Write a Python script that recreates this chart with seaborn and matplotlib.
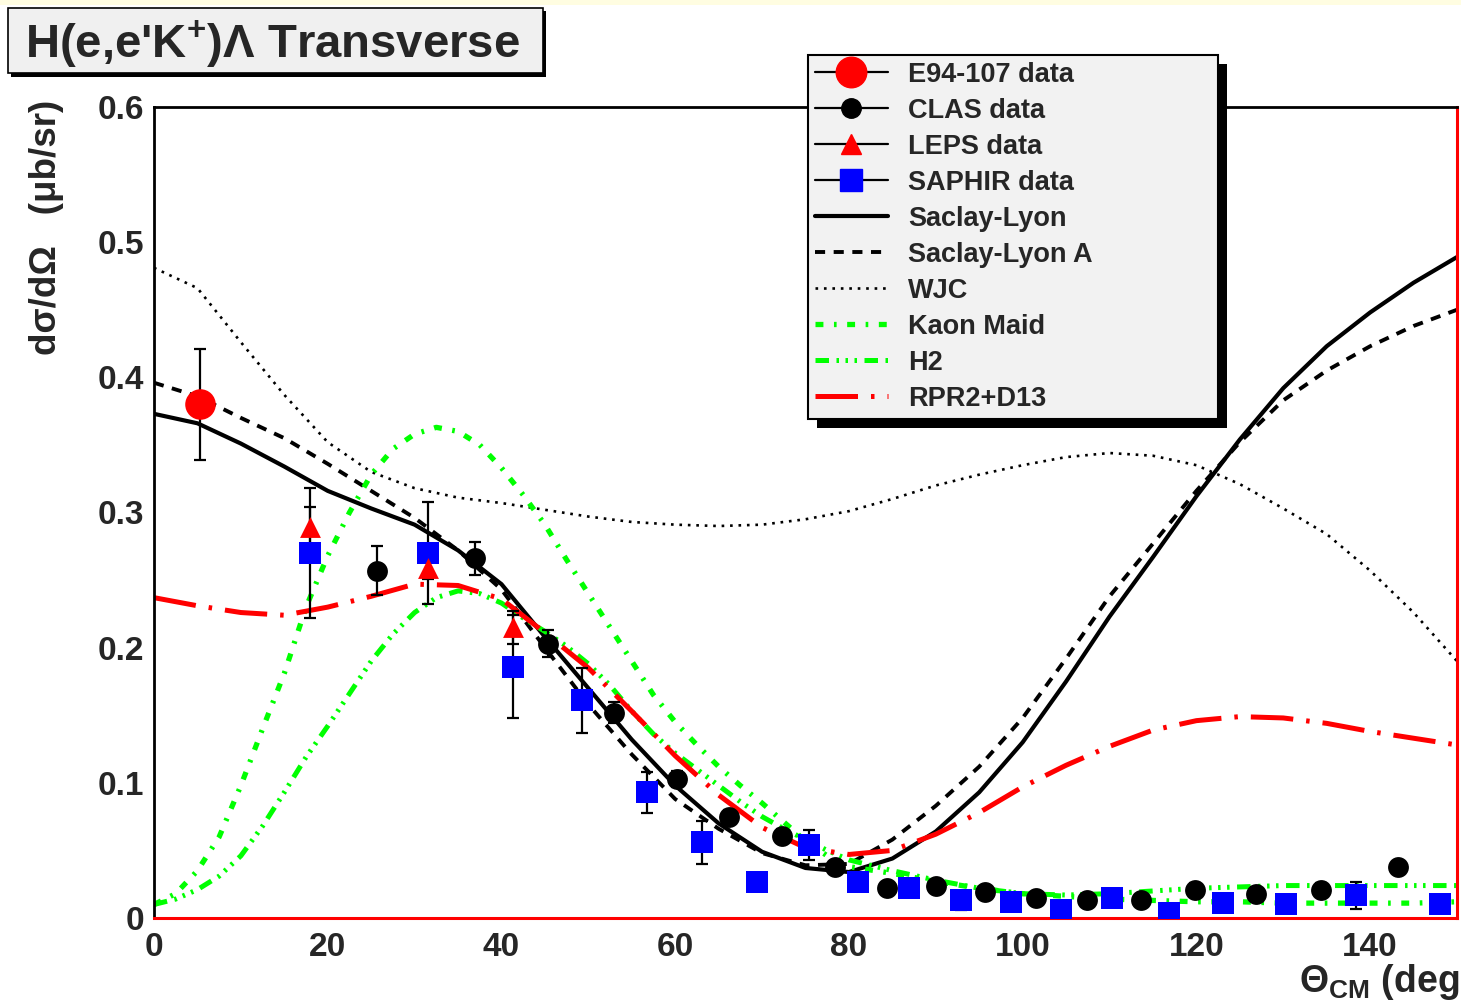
import numpy as np
import pandas as pd
import matplotlib
matplotlib.use("Agg")
import matplotlib.pyplot as plt
import seaborn as sns
from matplotlib.lines import Line2D
from matplotlib.patches import Rectangle
from matplotlib.transforms import IdentityTransform
from matplotlib.ticker import MultipleLocator, FuncFormatter

# ---- data points ----
e94_x = [5.3]
e94_y = [0.380]
e94_err = [0.041]

clas_x = [25.7, 37.0, 45.3, 53.0, 60.2, 66.2, 72.3, 78.4, 84.4, 90.0,
          95.7, 101.5, 107.4, 113.6, 119.8, 126.9, 134.4, 143.2]
clas_y = [0.257, 0.266, 0.203, 0.152, 0.103, 0.075, 0.061, 0.038, 0.022, 0.024,
          0.019, 0.015, 0.013, 0.013, 0.021, 0.018, 0.021, 0.038]
clas_err = [0.018, 0.012, 0.010, 0.008, 0.006, 0.005, 0.005, 0.004, 0.004, 0.004,
            0.004, 0.004, 0.004, 0.004, 0.005, 0.005, 0.005, 0.004]

leps_x = [18.0, 31.5, 41.3]
leps_y = [0.289, 0.259, 0.215]
leps_err = [0.015, 0.008, 0.012]

saphir_x = [18.0, 31.5, 41.3, 49.3, 56.7, 63.1, 69.4, 75.4, 81.1, 86.9,
            92.9, 98.6, 104.4, 110.3, 116.8, 123.1, 130.3, 138.4, 148.0]
saphir_y = [0.270, 0.270, 0.186, 0.161, 0.093, 0.056, 0.027, 0.054, 0.027, 0.022,
            0.013, 0.012, 0.006, 0.015, 0.004, 0.011, 0.010, 0.017, 0.010]
saphir_err = [0.048, 0.038, 0.038, 0.024, 0.015, 0.016, 0.004, 0.011, 0.005, 0.005,
              0.007, 0.005, 0.004, 0.005, 0.004, 0.006, 0.006, 0.010, 0.006]

# ---- model curves ----
grid5 = [0, 5, 10, 15, 20, 25, 30, 35, 40, 45, 50, 55, 60, 65, 70, 75, 80,
         85, 90, 95, 100, 105, 110, 115, 120, 125, 130, 135, 140, 145, 150]

sl_y = [0.373, 0.366, 0.351, 0.334, 0.316, 0.303, 0.291, 0.272, 0.247, 0.208,
        0.170, 0.132, 0.098, 0.070, 0.049, 0.037, 0.034, 0.044, 0.064, 0.093,
        0.130, 0.175, 0.223, 0.267, 0.312, 0.354, 0.392, 0.423, 0.448, 0.470, 0.489]
sla_y = [0.396, 0.386, 0.370, 0.355, 0.336, 0.316, 0.296, 0.272, 0.243, 0.200,
         0.158, 0.121, 0.088, 0.066, 0.048, 0.039, 0.040, 0.058, 0.083, 0.112,
         0.148, 0.192, 0.238, 0.277, 0.316, 0.352, 0.383, 0.405, 0.423, 0.438, 0.450]
wjc_y = [0.481, 0.466, 0.426, 0.387, 0.352, 0.330, 0.318, 0.311, 0.307, 0.302,
         0.297, 0.293, 0.291, 0.290, 0.291, 0.295, 0.301, 0.310, 0.320, 0.328,
         0.335, 0.341, 0.344, 0.342, 0.335, 0.321, 0.303, 0.284, 0.257, 0.226, 0.190]
rpr_y = [0.237, 0.231, 0.226, 0.224, 0.230, 0.238, 0.247, 0.246, 0.236, 0.211,
         0.185, 0.153, 0.120, 0.091, 0.067, 0.052, 0.047, 0.050, 0.062, 0.078,
         0.097, 0.113, 0.127, 0.139, 0.146, 0.149, 0.148, 0.144, 0.138, 0.133, 0.128]

km_x = [0, 2.5, 5, 7.5, 10, 12.5, 15, 17.5, 20, 22.5, 25, 27.5, 30, 32.5, 35,
        37.5, 40, 42.5, 45, 47.5, 50, 52.5, 55, 57.5, 60, 62.5, 65, 67.5, 70,
        72.5, 75, 77.5, 80, 85, 90, 95, 100, 105, 110, 115, 120, 125, 130, 135,
        140, 145, 150]
km_y = [0.010, 0.018, 0.035, 0.060, 0.098, 0.140, 0.181, 0.230, 0.268, 0.300,
        0.328, 0.347, 0.358, 0.363, 0.360, 0.350, 0.333, 0.313, 0.291, 0.265,
        0.240, 0.215, 0.190, 0.165, 0.145, 0.128, 0.112, 0.098, 0.085, 0.071,
        0.057, 0.046, 0.038, 0.033, 0.027, 0.022, 0.018, 0.016, 0.014, 0.013,
        0.012, 0.012, 0.011, 0.011, 0.011, 0.011, 0.012]
h2_y = [0.010, 0.014, 0.021, 0.031, 0.046, 0.068, 0.093, 0.119, 0.142, 0.166,
        0.190, 0.210, 0.226, 0.237, 0.242, 0.240, 0.233, 0.222, 0.212, 0.201,
        0.188, 0.172, 0.153, 0.136, 0.122, 0.110, 0.098, 0.086, 0.075, 0.066,
        0.058, 0.050, 0.043, 0.035, 0.028, 0.022, 0.018, 0.017, 0.018, 0.020,
        0.022, 0.023, 0.024, 0.024, 0.024, 0.024, 0.024]

labels = ["E94-107 data", "CLAS data", "LEPS data", "SAPHIR data", "Saclay-Lyon",
          "Saclay-Lyon A", "WJC", "Kaon Maid", "H2", "RPR2+D13"]

GREEN = "#00ff00"
curve_styles = {
    "Saclay-Lyon": dict(color="black", lw=3.0, linestyle="-"),
    "Saclay-Lyon A": dict(color="black", lw=2.8, linestyle=(0, (2.6, 2.2))),
    "WJC": dict(color="black", lw=1.9, linestyle=(0, (1, 2.2))),
    "Kaon Maid": dict(color=GREEN, lw=3.8, linestyle=(0, (1.5, 2.0, 0.5, 2.0))),
    "H2": dict(color=GREEN, lw=3.6, linestyle=(0, (2.7, 1.5, 0.5, 1.3, 0.5, 1.3, 0.5, 1.5))),
    "RPR2+D13": dict(color="red", lw=3.6, linestyle=(0, (8.5, 2.6, 0.7, 2.6))),
}

sns.set_style("white")
plt.rcParams['font.family'] = ['Liberation Sans', 'DejaVu Sans']
plt.rcParams['font.weight'] = 'bold'
plt.rcParams['mathtext.fontset'] = 'custom'
plt.rcParams['mathtext.rm'] = 'Liberation Sans:bold'
plt.rcParams['mathtext.it'] = 'Liberation Sans:bold'
plt.rcParams['mathtext.bf'] = 'Liberation Sans:bold'

W, H = 1461, 1008
fig = plt.figure(figsize=(W / 100, H / 100), dpi=100)
fig.patch.set_facecolor("white")
fig.add_artist(Rectangle((0, 1 - 5 / H), 1, 5 / H, transform=fig.transFigure,
                         fc="#fffde1", ec="none", zorder=0))

ax = fig.add_axes([154 / W, 1 - 918 / H, (1457 - 154) / W, (918 - 107) / H])

# curves
curves = [("Saclay-Lyon", grid5, sl_y), ("Saclay-Lyon A", grid5, sla_y),
          ("WJC", grid5, wjc_y), ("Kaon Maid", km_x, km_y), ("H2", km_x, h2_y),
          ("RPR2+D13", grid5, rpr_y)]
for name, xs, ys in curves:
    sns.lineplot(x=xs, y=ys, ax=ax, sort=False, **curve_styles[name])

# data points with error bars
ebar = dict(fmt="none", ecolor="black", elinewidth=1.6, capsize=4.5, capthick=1.6, zorder=3)
ax.errorbar(saphir_x, saphir_y, yerr=saphir_err, **ebar)
ax.errorbar(leps_x, leps_y, yerr=leps_err, **ebar)
ax.errorbar(clas_x, clas_y, yerr=clas_err, **ebar)
ax.errorbar(e94_x, e94_y, yerr=e94_err, **ebar)
sns.scatterplot(x=saphir_x, y=saphir_y, marker="s", s=16 ** 2, color="blue",
                edgecolor="blue", linewidth=0, ax=ax, zorder=4)
sns.scatterplot(x=leps_x, y=leps_y, marker="^", s=15 ** 2, color="red",
                edgecolor="red", linewidth=0, ax=ax, zorder=4)
sns.scatterplot(x=clas_x, y=clas_y, marker="o", s=15 ** 2, color="black",
                edgecolor="black", linewidth=0, ax=ax, zorder=4)
sns.scatterplot(x=e94_x, y=e94_y, marker="o", s=22 ** 2, color="red",
                edgecolor="red", linewidth=0, ax=ax, zorder=4)

ax.set_xlim(0, 150)
ax.set_ylim(0, 0.6)
ax.set_xlabel("")
ax.set_ylabel("")
ax.xaxis.set_major_locator(MultipleLocator(20))
ax.xaxis.set_minor_locator(MultipleLocator(4))
ax.yaxis.set_major_locator(MultipleLocator(0.1))
ax.yaxis.set_minor_locator(MultipleLocator(0.02))
ax.yaxis.set_major_formatter(FuncFormatter(lambda v, p: "0" if abs(v) < 1e-9 else f"{v:.1f}"))
ax.tick_params(axis="both", which="both", direction="in", color="black", width=1.6,
               labelsize=24, top=False, right=False)
ax.tick_params(axis="y", which="major", length=27, pad=7)
ax.tick_params(axis="y", which="minor", length=14)
ax.tick_params(axis="x", which="major", length=16, pad=10)
ax.tick_params(axis="x", which="minor", length=7.5)
for lab in ax.get_xticklabels() + ax.get_yticklabels():
    lab.set_fontweight("bold")
for side in ["left", "top"]:
    ax.spines[side].set_color("black")
    ax.spines[side].set_linewidth(2)
for side in ["bottom", "right"]:
    ax.spines[side].set_color("red")
    ax.spines[side].set_linewidth(2.2)

# axis titles
fig.text(47 / W, 1 - 100 / H, "dσ/dΩ   (μb/sr)", rotation=90, ha="center", va="top",
         fontsize=26.5, fontweight="bold")
fig.text(1459 / W, 1 - 992 / H, r"$\Theta_{CM}$ (deg", ha="right", va="baseline",
         fontsize=27, fontweight="bold")

# title box
fig.add_artist(Rectangle((11 / W, 1 - 77 / H), 535 / W, 66 / H, transform=fig.transFigure,
                         fc="black", ec="none", zorder=1))
fig.add_artist(Rectangle((8 / W, 1 - 73 / H), 535 / W, 65 / H, transform=fig.transFigure,
                         fc="#f0f0f0", ec="black", lw=1.2, zorder=2))
fig.text(272 / W, 1 - 44 / H, "H(e,e'K$^{+}$)Λ Transverse", ha="center", va="center",
         fontsize=34, fontweight="bold", zorder=3)

# legend
handles = [
    Line2D([], [], color="black", lw=1.6, marker="o", ms=22, mfc="red", mec="red"),
    Line2D([], [], color="black", lw=1.6, marker="o", ms=14, mfc="black", mec="black"),
    Line2D([], [], color="black", lw=1.6, marker="^", ms=14, mfc="red", mec="red"),
    Line2D([], [], color="black", lw=1.6, marker="s", ms=16, mfc="blue", mec="blue"),
]
for name in labels[4:]:
    handles.append(Line2D([], [], **curve_styles[name]))

leg = fig.legend(handles, labels, loc="upper left",
                 bbox_to_anchor=(808 / W, 1 - 410 / H, 410 / W, 355 / H), mode="expand",
                 frameon=True, fancybox=False, framealpha=1, facecolor="#f2f2f2",
                 edgecolor="black", borderaxespad=0, borderpad=0.25, handlelength=2.7,
                 handletextpad=0.75, labelspacing=0.37,
                 prop=dict(family="Liberation Sans", weight="bold", size=19.5))
leg.get_frame().set_linewidth(1.5)
leg.set_zorder(6)

fig.canvas.draw()
bb = leg.get_window_extent()
fig.add_artist(Rectangle((bb.x0 + 9, bb.y0 - 9), bb.width, bb.height,
                         transform=IdentityTransform(), fc="black", ec="none", zorder=5.5))

fig.savefig("out.png", dpi=100)
